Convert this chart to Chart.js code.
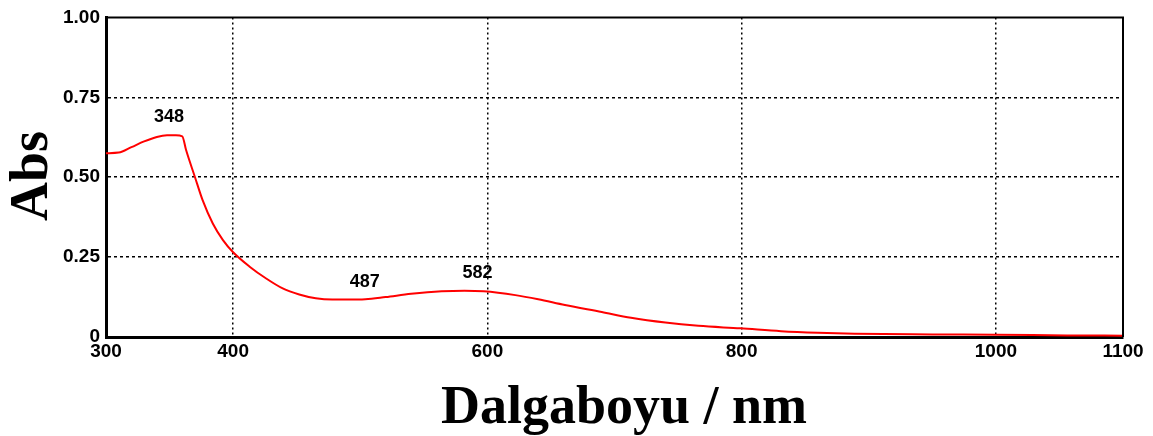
<!DOCTYPE html>
<html>
<head>
<meta charset="utf-8">
<script src="https://cdn.jsdelivr.net/npm/chart.js@4/dist/chart.umd.min.js"></script>
<style>
  html, body { margin: 0; padding: 0; background: #fff; }
  #wrap { width: 1153px; height: 436px; position: relative; }
</style>
</head>
<body>
<div id="wrap"><canvas id="c" width="1153" height="436"></canvas></div>
<script>
// Absorption spectrum
const wavelengths = [300, 310, 320, 330, 340, 348, 355, 360, 363, 370, 376, 384, 392, 400, 413, 426, 439, 452, 465, 478, 490, 504, 520, 540, 564, 582, 597, 622, 640, 661, 690, 713, 740, 766, 799, 831, 860, 889, 950, 1000, 1056, 1100];
const absorbance  = [0.575, 0.577, 0.594, 0.612, 0.626, 0.631, 0.631, 0.628, 0.585, 0.500, 0.428, 0.355, 0.303, 0.265, 0.220, 0.183, 0.152, 0.133, 0.121, 0.117, 0.117, 0.118, 0.125, 0.135, 0.143, 0.145, 0.143, 0.131, 0.118, 0.100, 0.078, 0.060, 0.045, 0.035, 0.027, 0.018, 0.013, 0.010, 0.008, 0.007, 0.005, 0.004];

const xTicks = [300, 400, 600, 800, 1000, 1100];
const yTicks = [0, 0.25, 0.5, 0.75, 1.0];
const yTickLabels = ['0', '0.25', '0.50', '0.75', '1.00'];

// Peak annotations: wavelength, absorbance at label, pixel nudge
const peakNames = ['348', '487', '582'];
const peakX = [348, 487, 582];
const peakY = [0.631, 0.117, 0.145];
const peakDx = [2, 21, 13];

const xTitle = 'Dalgaboyu / nm';
const yTitle = 'Abs';

const points = wavelengths.map((w, i) => ({ x: w, y: absorbance[i] }));

const tickFont = { family: 'Liberation Sans', size: 19, weight: 'bold' };

const decor = {
  id: 'decor',
  afterDraw(chart) {
    const { ctx, chartArea: a, scales } = chart;
    ctx.save();
    // frame: top and right edges
    ctx.strokeStyle = '#000';
    ctx.lineWidth = 2;
    ctx.beginPath();
    ctx.moveTo(a.left, a.top);
    ctx.lineTo(a.right, a.top);
    ctx.lineTo(a.right, a.bottom);
    ctx.stroke();

    // peak labels
    ctx.fillStyle = '#000';
    ctx.font = 'bold 18px "Liberation Sans"';
    ctx.textAlign = 'center';
    ctx.textBaseline = 'bottom';
    peakNames.forEach((t, i) => {
      const px = scales.x.getPixelForValue(peakX[i]) + peakDx[i];
      const py = scales.y.getPixelForValue(peakY[i]) - 9;
      ctx.fillText(t, px, py);
    });

    // axis titles
    ctx.font = 'bold 54px "Liberation Serif"';
    ctx.textAlign = 'center';
    ctx.textBaseline = 'alphabetic';
    ctx.fillText(xTitle, 624, 423);

    ctx.translate(47, 176);
    ctx.rotate(-Math.PI / 2);
    ctx.fillText(yTitle, 0, 0);
    ctx.restore();
  }
};

const gridColor = (edges) => (c) => {
  const v = c.tick && c.tick.value;
  return edges.includes(v) ? 'rgba(0,0,0,0)' : '#000';
};

new Chart(document.getElementById('c'), {
  type: 'line',
  data: {
    datasets: [{
      data: points,
      borderColor: '#ff0000',
      borderWidth: 2,
      pointRadius: 0,
      fill: false,
      cubicInterpolationMode: 'monotone'
    }]
  },
  options: {
    responsive: false,
    animation: false,
    devicePixelRatio: 1,
    layout: { padding: { top: 17, right: 30, left: 0, bottom: 0 } },
    plugins: { legend: { display: false }, tooltip: { enabled: false } },
    scales: {
      x: {
        type: 'linear',
        min: 300,
        max: 1100,
        afterBuildTicks: (s) => { s.ticks = xTicks.map(v => ({ value: v })); },
        afterFit: (s) => { s.height = 99; },
        ticks: { color: '#000', font: tickFont, padding: 3, maxRotation: 0, autoSkip: false,
                 callback: (v) => String(v) },
        grid: { drawTicks: false, color: gridColor([300, 1100]), lineWidth: 1.5 },
        border: { display: true, color: '#000', width: 3, dash: [2, 3] }
      },
      y: {
        type: 'linear',
        min: 0,
        max: 1,
        afterBuildTicks: (s) => { s.ticks = yTicks.map(v => ({ value: v })); },
        afterFit: (s) => { s.width = 106; },
        ticks: { color: '#000', font: tickFont, padding: 6, autoSkip: false,
                 callback: (v) => yTickLabels[yTicks.indexOf(v)] },
        grid: { drawTicks: false, color: gridColor([0, 1]), lineWidth: 1.5 },
        border: { display: true, color: '#000', width: 3, dash: [3, 3] }
      }
    }
  },
  plugins: [decor]
});
</script>
</body>
</html>
